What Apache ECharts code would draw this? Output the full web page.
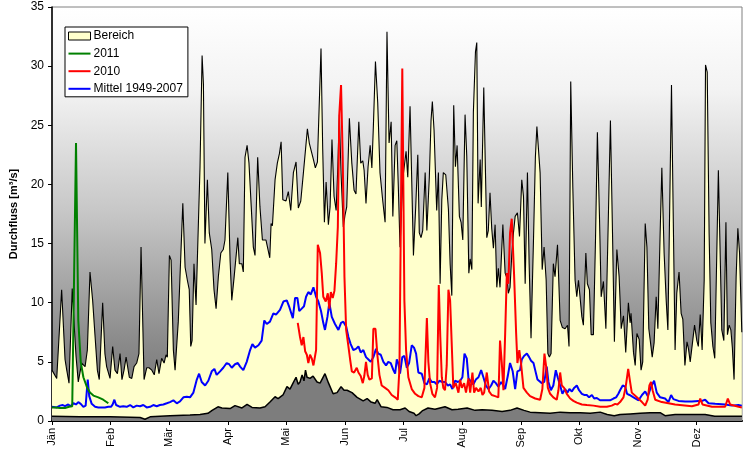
<!DOCTYPE html>
<html>
<head>
<meta charset="utf-8">
<script src="https://cdn.jsdelivr.net/npm/echarts@6/dist/echarts.min.js"></script>
<style>
html,body{margin:0;padding:0;background:#fff;}
#c{width:746px;height:468px;}
</style>
</head>
<body>
<div id="c"></div>
<script>
// x = day of year (0..365), y = Durchfluss [m³/s]
const months = ['Jän','Feb','Mär','Apr','Mai','Jun','Jul','Aug','Sep','Okt','Nov','Dez'];
const yTicks = [0,5,10,15,20,25,30,35];

const bereichMax = [
[0,4.3],[2.5,3.6],[5.1,11.1],[6.9,5.2],[7.8,4.3],[9,3.2],[10.7,11.2],[11.6,8.5],[12.7,5.5],[13.9,3.3],
[15.7,4.9],[17.5,4.6],[18.7,6],[20.1,12.6],[21.5,10.2],[22.8,7.1],[24,4.3],[25,3.5],[26.8,10],[28,5.7],
[28.9,4.6],[30.7,3.6],[32.1,6.3],[33.3,4.3],[34.6,4],[36,5.7],[37,3.5],[38.1,4.3],[39.2,5.4],[39.8,5.4],
[40.9,3.7],[42.2,3.6],[43.4,4.6],[44.8,4.9],[46,5.7],[47.1,14.7],[48.7,3.5],[50.1,4.5],[51.3,4.5],[52.8,4.3],
[54.1,3.9],[55.4,5.2],[56.6,4],[58,5.3],[59.3,4.9],[60.3,5.6],[61,5.4],[62.1,14],[63,13.6],[64.2,6],
[65.1,4.3],[66.8,8.4],[67.7,8.3],[69.2,18.4],[70.4,13],[71.6,11.9],[72.6,11.1],[73.4,6.3],[74.1,6.8],[75.1,13.3],
[76.2,9.8],[77.1,9.8],[78.3,21.5],[79.4,30.9],[80.1,28.5],[80.9,15],[82.2,20.4],[83.2,15.9],[84.5,14.5],[85.7,11.1],
[86.8,9.5],[88,12.2],[89.3,14.2],[90.6,14.5],[91.5,15.3],[93,21],[94.2,13.6],[95.1,10.2],[96.3,12.1],[97.2,12],
[98.3,15.5],[99.1,13.3],[100.4,13.3],[101.2,12.6],[102.1,22.3],[103.2,23.3],[104.2,21.8],[105.3,18.4],[106.5,14.7],[107.4,14],
[108.8,22.3],[110,18.1],[111.3,15.3],[112.3,15.2],[113.2,15.3],[114.1,15.2],[115.2,13.8],[115.9,16.7],[116.6,16.5],[118,20.4],
[119.2,21.8],[120.3,22.6],[121.2,23.6],[122.1,18.7],[123.8,18.6],[125,19.4],[126.3,17.8],[127.7,21],[129.1,21.9],[130.3,18],
[131.6,18.6],[133,21],[133.9,21],[135.1,24.7],[136.1,23.5],[137,23.5],[138.3,22.1],[139.3,21.4],[140.4,21.9],[141.4,21.9],
[142.3,31.5],[143.2,23],[144.1,16.8],[145,20.2],[146.2,16.6],[147.1,18.1],[148.1,23.8],[149.2,19],[150.3,17.8],[151.2,21.5],
[152,25.9],[152.9,20.9],[154.1,16.4],[155,17.4],[155.9,18.1],[157.3,25.6],[158.6,21.8],[159.8,19.5],[160.8,19.2],[162.3,25.3],
[163.3,21.8],[164.4,22],[165.1,21.2],[166.1,18.4],[167.2,21.5],[168.3,23.3],[169.2,21.4],[170,24.9],[171.1,30.4],[172.3,26.9],
[173.5,21],[174.9,18.7],[176.2,16.8],[177.2,32.9],[178.3,23.5],[179.4,25.3],[180.3,17.3],[181.5,23.3],[182.4,23.7],[183.2,19.8],
[184.1,14.7],[185.6,20.5],[186.4,20.6],[187.3,22.8],[188.2,20.6],[189.4,26.6],[191.2,14],[192.4,18.1],[193.5,22.5],[194.3,15.9],
[195.2,15.5],[196.1,16.1],[197.4,21],[198.3,16.1],[199.6,20.6],[200.5,25.4],[201.2,27],[202.1,24.6],[203.5,17.8],[204.4,21],
[205.3,11.6],[206.2,18.7],[207,21],[208.3,20.8],[209.7,17.9],[210.6,13.3],[211.5,10.6],[212.5,26.7],[213.4,21.5],[214.3,23.3],
[215.5,17.3],[216.4,16.8],[217.3,15.3],[218.5,25.9],[219.4,22.4],[220.5,12.5],[221.2,13.7],[222.1,12.8],[222.9,26.1],[224,31.2],
[224.7,32],[225.4,18.4],[226.5,22.1],[227.1,18.1],[228.4,28.2],[229.3,21],[230,15.5],[230.8,16.1],[231.7,19.3],[232.6,16.3],
[233.5,14.6],[234.4,16.6],[235.3,11.3],[236.1,12.9],[237,11.3],[238.5,16.6],[239.7,12.5],[240.6,12.1],[241.4,10.8],[242.3,11.3],
[243.2,14],[244.1,15.9],[245,17.3],[246.2,17.6],[247.3,15.6],[248.5,20.4],[249.4,19],[250.3,11.6],[251.5,21],[252.4,13.3],
[253.4,7],[254.7,15.3],[255.7,22.3],[256.5,24.9],[257.5,24.9],[258.2,21],[259.3,12.8],[260.3,14.7],[261.4,11.9],[262.3,5.7],
[263.1,5.4],[264,5.7],[265.2,13.3],[266.1,12.2],[267.4,14.9],[268.8,8.5],[270,7.9],[271.4,7.8],[272.7,8.1],[273.5,6.3],
[274.4,28.7],[275.5,19.8],[276.7,11.9],[277.6,10.5],[278.5,11.9],[279.4,11.8],[280.3,8.8],[281.1,8.1],[282.4,14.2],[283.2,11.6],
[284.3,11.1],[285.2,7.3],[286.4,7.3],[287.5,15.3],[288.5,24.4],[289.6,17.3],[290.5,10.5],[291.7,11.8],[293,7.8],[294.3,17.2],
[295.4,25.4],[296.5,15.9],[297.5,6.7],[298.8,14.5],[300,12.2],[301.1,7.8],[302.3,8.9],[303.5,5.8],[304.9,10],[305.8,8.3],
[306.3,9.1],[307.6,5.8],[308.5,4.7],[309.4,7.4],[310.6,6.9],[311.6,4.3],[312.5,5],[313.8,16.7],[314.7,14.7],[315.7,7.8],
[316.4,6.9],[317.5,5.4],[318.5,6.6],[319.6,10.5],[320.5,7.8],[321.7,15.9],[322.6,21.4],[323.8,14.2],[324.9,10.2],[325.8,7.7],
[326.6,16.4],[327.7,28.4],[328.7,16.4],[329.6,6],[330.5,10.8],[331.7,12.6],[332.8,9.1],[333.7,8.6],[334.8,4.7],[335.9,6.7],
[336.7,6.1],[337.6,5],[338.8,6.6],[339.9,8.1],[341.1,6.8],[341.9,6.3],[342.9,9],[343.9,6],[345,11.9],[345.7,30.1],
[346.6,29.5],[347.6,15.9],[348.5,8.3],[349.6,6.3],[350.6,5.3],[351.7,14.5],[352.5,21.2],[353.4,14.5],[354.3,7.7],[355.4,6.8],
[356.5,16.8],[357.3,7.3],[358.2,8.1],[359.1,7.7],[359.9,6.2],[360.8,3.5],[361.9,12.2],[362.8,16.3],[363.7,14.2],[364.9,7.5]
];

const bereichMin = [
[0,0.4],[14.8,0.35],[30.7,0.35],[46.6,0.3],[49.2,0.15],[51.9,0.35],[62.4,0.45],[73,0.5],[78.3,0.55],[82.5,0.65],
[84.7,0.9],[87.8,1.2],[89.9,1.1],[94.2,1.05],[96.8,1.3],[100.5,1.1],[103.2,1.4],[105.8,1.15],[110,1.1],[112.7,1.2],
[115.3,1.6],[118,2.05],[119.6,1.9],[122.2,2.2],[124.3,2.9],[125.9,2.7],[127.5,3.2],[129.1,3.7],[130.2,3.1],[131.2,3.3],
[132.3,3.9],[133.3,3.4],[134.1,4.3],[134.9,3.7],[136.5,3.6],[138.1,3.8],[140.2,3.3],[141.8,3.2],[144.4,4.0],[146.3,3.2],
[148.7,2.3],[150.8,2.4],[152.9,2.9],[154.5,2.6],[156.1,2.6],[158.7,2.4],[161.4,2.0],[164.6,1.7],[166.7,1.9],[168.8,1.6],
[170.9,1.5],[172,1.8],[174.1,1.2],[177.2,1.15],[180.4,0.95],[184.1,0.95],[186.8,1.1],[188.9,0.8],[191.5,0.65],[192.6,0.45],
[194.2,0.6],[195.8,0.85],[198.9,1.1],[202.6,1.0],[207.9,1.2],[211.6,0.95],[214.8,1.0],[219.6,1.1],[223.8,0.9],[227.5,0.95],
[232.8,0.9],[238.1,0.8],[242.3,0.9],[246,1.1],[249.7,0.9],[252.9,0.75],[258.2,0.7],[263.5,0.65],[268.8,0.75],[274.1,0.7],
[279.4,0.7],[284.7,0.65],[290,0.75],[293.7,0.55],[297.4,0.45],[300.5,0.55],[305.8,0.6],[311.1,0.65],[316.4,0.7],[321.7,0.7],
[324.3,0.45],[329.6,0.55],[334.9,0.55],[340.2,0.55],[345.5,0.55],[350.6,0.4],[358.5,0.4],[365,0.4]
];

const mittel = [
[0,1.2],[2.5,1.15],[4.2,1.3],[5.7,1.35],[6.9,1.25],[8.6,1.4],[9.9,1.25],[11.3,1.5],[12.7,1.4],[13.9,1.6],
[15.2,1.45],[16.6,1.2],[17.8,1.3],[18.9,3.5],[19.7,2.1],[21,1.45],[22.8,1.2],[24.5,1.15],[26.3,1.15],[28,1.15],
[29.8,1.2],[31.2,1.2],[32.1,1.4],[33,1.8],[33.9,1.35],[36,1.2],[37.7,1.25],[39.5,1.2],[41.3,1.35],[43,1.15],
[44.8,1.3],[46.6,1.25],[48.3,1.35],[50.1,1.15],[51.9,1.2],[53.6,1.35],[55.4,1.25],[57.1,1.35],[58.9,1.4],[60.7,1.5],
[62.4,1.6],[64.2,1.75],[66,1.5],[67.7,1.65],[69.5,2.0],[71.3,2.05],[73,2.0],[74.8,2.4],[76.6,3.5],[77.8,4.0],
[79.2,3.3],[81,3.0],[82.7,3.4],[84.5,4.2],[85.9,4.4],[87.1,3.9],[88.9,4.2],[90.6,4.5],[92.4,4.9],[93.7,4.8],
[95.1,4.5],[96.8,4.8],[98.3,4.9],[99.5,4.6],[101.2,4.3],[103,5.0],[104.8,6.0],[106,6.5],[107.4,6.2],[109.2,6.4],
[110.9,6.8],[112.3,8.5],[113.6,8.2],[115.3,8.4],[117.1,9.1],[118.5,9.0],[120.6,9.4],[122.4,10.1],[124.2,10.2],[125.6,9.6],
[127.4,8.7],[128.6,10.4],[129.8,10.4],[130.8,9.3],[132.1,9.5],[133.3,9.7],[134.4,10.5],[135.6,10.9],[136.9,10.7],[138.3,11.3],
[139.7,10.5],[140.9,10.1],[142.3,9.3],[143.5,8.3],[144.4,7.7],[145.7,8.8],[146.7,10.0],[148,8.8],[149.7,8.2],[151.5,7.7],
[152.9,8.3],[154.1,8.4],[155.6,8.0],[156.8,7.1],[158,6.5],[159.4,6.0],[160.8,6.1],[162.1,6.3],[163.3,5.8],[164.7,6.0],
[166.1,5.4],[167.4,5.2],[168.6,5.0],[170,5.4],[171.4,6.1],[172.6,5.7],[173.9,5.6],[175.3,5.0],[176.7,4.7],[177.9,5.0],
[179.2,4.9],[180.6,4.3],[181.5,4.0],[182.4,5.2],[183.2,4.9],[184.1,4.0],[185.3,5.4],[186.4,5.5],[187.7,4.5],[188.9,4.9],
[190.3,6.4],[191.5,6.2],[192.6,5.7],[193.8,4.1],[195.6,4.0],[197,3.2],[198.3,3.1],[199.6,3.6],[200.9,3.3],[202.3,3.3],
[203.5,3.1],[204.9,3.4],[206.5,3.3],[207.9,3.3],[209.4,3.0],[210.6,3.1],[211.8,2.7],[213.2,3.4],[214.7,3.3],[215.9,3.4],
[217.1,3.7],[218.2,5.7],[219.4,5.3],[220.3,3.6],[221.7,3.3],[222.9,3.1],[224.2,3.5],[225.6,3.7],[227,4.3],[228.2,3.7],
[229.5,3.0],[230.9,2.7],[232.3,3.0],[233.5,3.4],[234.8,3.2],[236.1,2.9],[237.6,3.3],[238.8,3.0],[239.7,2.7],[241.1,3.8],
[242.3,4.9],[243.7,4.2],[245,2.7],[246.2,4.2],[247.6,4.3],[248.5,5.2],[249.7,5.5],[251.2,5.7],[252.4,5.4],[253.4,5.1],
[254.7,4.9],[255.6,4.3],[256.8,3.5],[257.8,3.6],[259.1,3.2],[260.4,3.3],[261.7,4.6],[262.6,3.3],[263.9,2.6],[265.2,3.0],
[266.5,4.3],[267.5,3.7],[268.8,3.0],[270,2.3],[271.4,2.7],[272.7,2.4],[273.7,2.7],[275,2.5],[276.2,2.8],[277.6,3.0],
[278.8,2.6],[280.3,2.3],[281.5,2.2],[282.9,2.2],[284.1,2.0],[285.6,2.2],[286.8,1.9],[288.2,1.95],[289.9,1.75],[291.7,1.75],
[293.5,1.75],[295.2,1.75],[297,1.9],[298.4,2.0],[299.6,2.3],[300.5,2.6],[301.9,3.0],[303.2,2.9],[304.2,2.3],[305.5,2.2],
[307.6,2.0],[310.3,1.75],[312.1,2.2],[313.8,2.5],[315.2,2.1],[316.9,2.9],[318.5,3.4],[319.9,2.4],[321.7,2.0],[324.3,1.9],
[326.1,1.6],[327.5,2.2],[328.7,1.85],[331.4,1.7],[334.9,1.65],[338.5,1.65],[342,1.7],[343.9,1.7],[345.5,1.8],[347.3,1.5],
[350.8,1.45],[356.1,1.4],[359.6,1.3],[363.1,1.35],[364.9,1.3]
];

const jahr2010 = [
[130,8.3],[131.2,7.1],[132.1,6.4],[133,7.1],[133.9,5.9],[134.8,5.6],[135.6,4.9],[136.5,5.6],[137.4,5.3],[138.3,4.7],
[139.7,6.0],[140.6,14.9],[141.8,14.2],[142.7,12.5],[143.5,10.5],[144.8,10.1],[145.9,10.8],[146.7,9.5],[147.5,10.9],[148.5,10.4],
[149.4,11.0],[150.3,13.3],[151.2,16.4],[152,26],[152.9,28.4],[153.8,22.1],[154.7,12.2],[155.6,7.7],[156.8,6.3],[157.7,5.2],
[158.6,4.2],[159.8,4.1],[161.2,4.5],[162.1,4.1],[163.3,3.8],[164.4,3.2],[165.2,3.8],[166.1,5.0],[167,3.9],[167.9,3.5],
[169.2,3.6],[170,7.8],[171.1,7.8],[172.1,5.6],[173.2,3.9],[174.4,3.0],[176.2,2.8],[177.9,2.6],[179.7,2.2],[181.5,2.0],
[182.9,1.8],[183.8,4.5],[185.3,29.8],[186.4,10.2],[187.3,6.0],[188.5,3.7],[190.3,2.7],[192.1,2.3],[193.8,2.1],[195.6,2.0],
[197,2.8],[198.3,8.7],[199.1,5.0],[200,3.2],[201.2,2.3],[202.6,2.0],[203.7,2.8],[204.6,11.5],[205.4,7.1],[206.2,3.7],
[207,2.8],[207.9,2.6],[208.8,4.7],[209.7,11.1],[210.6,10.2],[211.5,6.3],[212.3,2.8],[213.6,3.2],[215,2.4],[215.9,3.5],
[216.8,2.8],[218,3.2],[219,2.4],[220.3,3.6],[221.2,2.4],[222.4,4.1],[223.3,2.4],[224.3,2.8],[225.6,2.5],[226.8,2.8],
[227.7,2.2],[228.6,2.4],[230,4.1],[231.2,2.5],[232.6,2.2],[234.4,2.1],[236.1,2.0],[236.5,3.9],[237,6.8],[237.9,5.0],
[238.8,2.6],[239.7,7.3],[240.6,12.5],[241.4,11.6],[242.3,15.9],[243.2,17.1],[243.7,17.2],[244.4,12.5],[245.5,7.5],[246.2,4.9],
[247.2,6.0],[248.1,4.9],[249.4,2.8],[251.2,2.4],[252.9,2.1],[255.6,1.9],[258.2,1.8],[259.4,2.7],[260.5,5.7],[261.4,4.6],
[262.3,2.8],[263.5,2.3],[265.2,2.0],[267,1.8],[267.9,2.6],[268.8,4.1],[269.7,3.0],[270.9,2.8],[272.3,2.3],[274.1,1.9],
[275.8,1.7],[277.6,1.55],[280.3,1.4],[282.9,1.35],[286.4,1.3],[290,1.2],[293.5,1.2],[296.1,1.3],[297.9,1.45],[299.1,1.4],
[300.5,1.6],[302.3,2.0],[303.5,2.9],[304.8,4.4],[305.8,3.3],[306.7,2.4],[309.4,2.0],[312.1,1.6],[313.8,1.3],[315.1,1.8],
[316,3.0],[316.9,3.3],[317.7,2.6],[319.1,1.8],[322.6,1.6],[329.6,1.4],[338.5,1.25],[342,1.4],[342.9,1.9],[344.1,1.4],
[349.1,1.2],[356.1,1.2],[357.5,1.9],[358.7,1.4],[363.2,1.2],[364.9,1.15]
];

const jahr2011 = [
[0,1.15],[2.1,1.15],[4.2,1.1],[6.9,1.1],[9,1.2],[10.7,1.25],[12.7,23.5],[13.9,8.5],[15.2,5.0],[16.6,3.7],
[18.4,2.9],[20.1,2.4],[21.9,2.15],[24.5,2.0],[27.1,1.8],[29.8,1.5]
];

const FONT = "'Liberation Sans', Arial, sans-serif";
const LINE_ICON = 'path://M0,0L22,0L22,2L0,2Z';
const chart = echarts.init(document.getElementById('c'), null, {renderer: 'canvas'});

chart.setOption({
  animation: false,
  textStyle: {fontFamily: FONT, color: '#000'},
  grid: {
    left: 52, top: 7, right: 4, bottom: 47,
    show: true,
    borderColor: '#808080', borderWidth: 1,
    backgroundColor: new echarts.graphic.LinearGradient(0, 0, 0, 1, [
      {offset: 0, color: '#ffffff'},
      {offset: 0.2, color: '#f3f3f3'},
      {offset: 0.5, color: '#c6c6c6'},
      {offset: 0.8, color: '#8c8c8c'},
      {offset: 1, color: '#6c6c6c'}
    ])
  },
  legend: {
    left: 65, top: 27,
    orient: 'vertical',
    backgroundColor: '#fff',
    borderColor: '#000', borderWidth: 1, borderRadius: 0,
    padding: [3, 5, 2, 3],
    itemWidth: 22, itemHeight: 8, itemGap: 5.6,
    symbolKeepAspect: true,
    textStyle: {fontFamily: FONT, fontSize: 12, color: '#000', padding: [0, 0, 0, -2]},
    data: [
      {name: 'Bereich', icon: 'rect', itemStyle: {color: '#ffffcc', borderColor: '#000', borderWidth: 1}},
      {name: '2011', icon: LINE_ICON},
      {name: '2010', icon: LINE_ICON},
      {name: 'Mittel 1949-2007', icon: LINE_ICON}
    ]
  },
  xAxis: {
    type: 'value', min: 0, max: 365, interval: 31,
    axisLine: {show: true, lineStyle: {color: '#000', width: 2}},
    axisTick: {show: true, length: 4, lineStyle: {color: '#000'}},
    splitLine: {show: false},
    axisLabel: {
      rotate: 90, fontSize: 11, color: '#000', fontFamily: FONT, margin: 7,
      showMaxLabel: false,
      formatter: function (v) {
        const i = Math.round(v / 31);
        return (Math.abs(v - i * 31) < 0.01 && i < months.length) ? months[i] : '';
      }
    }
  },
  yAxis: {
    type: 'value', min: yTicks[0], max: yTicks[yTicks.length - 1], interval: 5,
    name: 'Durchfluss [m³/s]', nameLocation: 'middle', nameGap: 22,
    nameTextStyle: {fontFamily: FONT, fontSize: 11, fontWeight: 'bold', color: '#000'},
    axisLine: {show: true, lineStyle: {color: '#000', width: 1.5}},
    axisTick: {show: true, length: 4, lineStyle: {color: '#000'}},
    splitLine: {show: false},
    axisLabel: {fontSize: 12, color: '#000', fontFamily: FONT, margin: 8}
  },
  series: [
    {
      name: 'Bereich', type: 'line', data: bereichMax, symbol: 'none', z: 1,
      itemStyle: {color: '#ffffcc', borderColor: '#000'},
      lineStyle: {color: '#000', width: 1.1},
      areaStyle: {color: '#ffffcc', opacity: 1}
    },
    {
      name: 'min', type: 'line', data: bereichMin, symbol: 'none', z: 2,
      lineStyle: {color: '#000', width: 1.5},
      areaStyle: {color: '#7d7d7d', opacity: 1}
    },
    {
      name: 'Mittel 1949-2007', type: 'line', data: mittel, symbol: 'none', z: 3,
      itemStyle: {color: '#0000ff'},
      lineStyle: {color: '#0000ff', width: 2}
    },
    {
      name: '2010', type: 'line', data: jahr2010, symbol: 'none', z: 4,
      itemStyle: {color: '#ff0000'},
      lineStyle: {color: '#ff0000', width: 2}
    },
    {
      name: '2011', type: 'line', data: jahr2011, symbol: 'none', z: 5,
      itemStyle: {color: '#008000'},
      lineStyle: {color: '#008000', width: 2}
    }
  ]
});
</script>
</body>
</html>
